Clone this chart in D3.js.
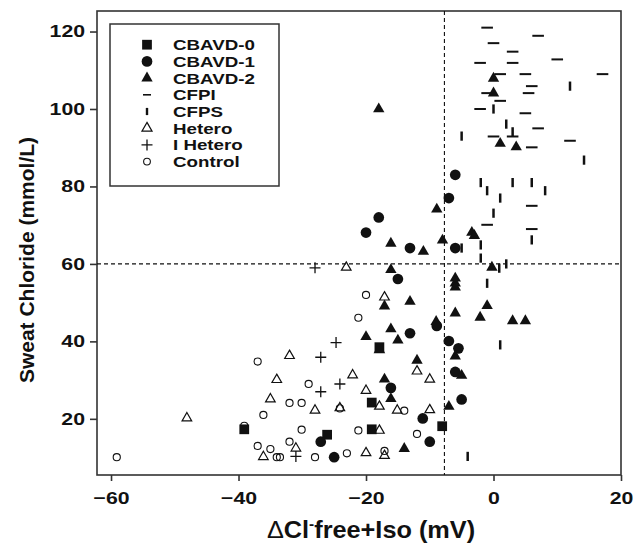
<!DOCTYPE html>
<html>
<head>
<meta charset="utf-8">
<script src="https://cdn.jsdelivr.net/npm/d3@7"></script>
<style>
  html, body { margin: 0; padding: 0; background: #fff; }
  svg { display: block; }
  text { font-family: "Liberation Sans", Arial, sans-serif; font-weight: bold; fill: #111; }
</style>
</head>
<body>
<svg id="chart" width="633" height="544"></svg>
<script>
// ---- data (x = ΔCl-free+Iso in mV, y = sweat chloride in mmol/L) ----
const cbavd0 = [[-39.1,17.3],[-26.1,15.9],[-19.1,17.3],[-19.1,24.2],[-17.9,38.5],[-8.05,18.1]];
const cbavd1 = [[-6.0,83.0],[-7.0,77.0],[-18.0,72.0],[-20.0,68.1],[-13.1,64.1],[-6.0,64.1],[-15.0,56.1],
  [-8.9,44.0],[-13.1,42.1],[-7.0,40.1],[-5.5,38.2],[-6.0,32.1],[-16.1,28.0],[-5.0,25.0],[-11.1,20.1],
  [-10.0,14.1],[-27.1,14.1],[-25.0,10.1]];
const cbavd2 = [[-18.0,100.0],[0.0,107.9],[0.0,104.1],[1.05,91.1],[3.56,90.2],[-8.9,74.1],[-3.4,68.1],
  [-3.0,67.3],[-8.0,66.1],[-16.1,65.3],[-11.0,63.2],[-0.25,59.1],[-16.1,58.5],[-6.0,56.3],[-6.0,55.0],
  [-6.0,54.0],[-17.1,49.1],[-13.1,50.3],[-1.0,49.2],[-6.0,47.3],[-2.1,46.2],[3.0,45.3],[5.0,45.3],
  [-9.0,45.1],[-16.1,43.2],[-20.0,41.2],[-15.0,40.3],[-6.0,36.2],[-12.0,35.1],[-5.0,31.2],[-17.1,30.2],
  [-16.1,25.2],[-7.0,23.2],[-14.0,12.3]];
const cfpi = [[-1.0,121.0],[7.0,118.9],[0.0,117.0],[3.0,114.8],[-2.1,111.9],[3.0,111.9],[10.0,112.8],
  [1.05,109.0],[5.0,109.0],[17.1,109.0],[6.0,105.9],[-1.0,104.1],[5.5,104.1],[1.05,102.1],[-2.1,100.0],
  [5.0,98.9],[7.0,95.0],[0.0,92.9],[3.0,92.9],[12.0,91.8],[6.0,90.1],[6.0,75.0],[-1.0,70.1],[6.0,69.0]];
const cfps = [[12.0,105.9],[0.0,100.0],[2.0,96.1],[3.0,94.1],[-5.0,93.0],[14.2,86.8],[-2.0,81.0],
  [-1.0,78.9],[3.0,81.0],[6.0,81.0],[8.1,78.9],[1.05,77.0],[0.0,73.1],[6.0,66.2],[-2.0,64.9],
  [-2.0,61.5],[-5.0,64.1],[0.9,58.9],[2.0,60.0],[-1.0,55.0],[1.05,39.1],[-4.05,10.3]];
const hetero = [[-48.1,20.2],[-23.1,59.1],[-32.0,36.3],[-22.1,31.3],[-34.0,30.1],[-35.0,25.1],[-28.0,22.2],
  [-24.1,22.8],[-17.1,51.4],[-12.0,32.3],[-10.0,30.2],[-20.0,27.3],[-17.9,23.2],[-15.1,22.2],[-10.0,22.3],
  [-17.9,17.0],[-20.0,11.2],[-17.1,10.5],[-31.0,12.4],[-36.1,10.2],[-17.9,37.8]];
const iHetero = [[-28.0,59.0],[-24.7,39.7],[-27.1,35.9],[-24.1,29.0],[-27.1,27.0],[-31.0,10.3]];
const control = [[-59.1,10.1],[-37.0,34.8],[-29.0,29.0],[-32.0,24.1],[-30.1,24.1],[-36.1,21.0],[-24.1,22.7],
  [-39.1,18.2],[-30.1,17.2],[-21.2,17.0],[-37.0,13.0],[-35.0,12.2],[-32.0,14.1],[-34.0,10.1],[-33.5,10.1],
  [-28.0,10.1],[-23.0,11.1],[-21.2,46.1],[-20.0,52.0],[-14.0,22.1],[-12.0,16.1],[-17.1,11.7]];

const xTicks = [-60, -40, -20, 0, 20];
const yTicks = [20, 40, 60, 80, 100, 120];
const refX = -7.7;   // vertical dashed reference
const refY = 60;     // horizontal dashed reference
const legendLabels = ["CBAVD-0","CBAVD-1","CBAVD-2","CFPI","CFPS","Hetero","I Hetero","Control"];

// ---- layout ----
const svg = d3.select("#chart");
const L = 97, R = 621, T = 11, B = 475;
const x = d3.scaleLinear().domain([-62.2, 20]).range([L, R]);
const y = d3.scaleLinear().domain([5.5, 125.3]).range([B, T]);
const ink = "#111";

// custom symbol types
const hDash = { draw(ctx, s) { const w = 5.8, h = 1.0; ctx.rect(-w, -h, 2*w, 2*h); } };
const vTick = { draw(ctx, s) { const w = 1.25, h = 4.6; ctx.rect(-w, -h, 2*w, 2*h); } };
const plus = { draw(ctx, s) { const r = 5.5; ctx.moveTo(-r,0); ctx.lineTo(r,0); ctx.moveTo(0,-r); ctx.lineTo(0,r); } };

const styles = {
  "CBAVD-0":  { type: d3.symbolSquare,   size: 95,  fill: ink, stroke: "none" },
  "CBAVD-1":  { type: d3.symbolCircle,   size: 90,  fill: ink, stroke: "none" },
  "CBAVD-2":  { type: d3.symbolTriangle, size: 56,  fill: ink, stroke: "none" },
  "CFPI":     { type: hDash,             size: 1,   fill: ink, stroke: "none" },
  "CFPS":     { type: vTick,             size: 1,   fill: ink, stroke: "none" },
  "Hetero":   { type: d3.symbolTriangle, size: 40,  fill: "none", stroke: ink, sw: 1.2 },
  "I Hetero": { type: plus,              size: 1,   fill: "none", stroke: ink, sw: 1.3 },
  "Control":  { type: d3.symbolCircle,   size: 40,  fill: "none", stroke: ink, sw: 1.1 }
};

// frame
svg.append("rect").attr("x", L).attr("y", T).attr("width", R - L).attr("height", B - T)
  .attr("fill", "none").attr("stroke", "#333").attr("stroke-width", 1.6);

// axes
const fontTick = 17;
const gx = svg.append("g").attr("transform", `translate(0,${B})`)
  .call(d3.axisBottom(x).tickValues(xTicks).tickSize(6).tickPadding(11).tickFormat(d3.format("d")));
const gy = svg.append("g").attr("transform", `translate(${L},0)`)
  .call(d3.axisLeft(y).tickValues(yTicks).tickSize(7).tickPadding(5).tickFormat(d3.format("d")));
[gx, gy].forEach(g => {
  g.select(".domain").remove();
  g.selectAll(".tick line").attr("stroke", "#333").attr("stroke-width", 1.6);
  g.selectAll(".tick text").attr("font-size", fontTick).attr("font-family", "Liberation Sans, Arial, sans-serif")
    .attr("font-weight", "bold").attr("fill", ink);
});
gx.selectAll(".tick text").attr("dy", "0.71em").attr("transform", "scale(1.25,1)");
gy.selectAll(".tick text").attr("x", -12 / 1.25).attr("transform", "scale(1.25,1)");

// reference lines
svg.append("line").attr("x1", x(refX)).attr("x2", x(refX)).attr("y1", T).attr("y2", B)
  .attr("stroke", ink).attr("stroke-width", 1.1).attr("stroke-dasharray", "4,3");
svg.append("line").attr("x1", L).attr("x2", R).attr("y1", y(refY)).attr("y2", y(refY))
  .attr("stroke", ink).attr("stroke-width", 1.1).attr("stroke-dasharray", "4,3");

// points
const series = [
  ["Control", control], ["Hetero", hetero], ["I Hetero", iHetero],
  ["CBAVD-0", cbavd0], ["CBAVD-1", cbavd1], ["CBAVD-2", cbavd2], ["CFPI", cfpi], ["CFPS", cfps]
];
series.forEach(([name, data]) => {
  const st = styles[name];
  svg.append("g").selectAll("path").data(data).join("path")
    .attr("transform", d => `translate(${x(d[0])},${y(d[1])})`)
    .attr("d", d3.symbol().type(st.type).size(st.size))
    .attr("fill", st.fill).attr("stroke", st.stroke).attr("stroke-width", st.sw || 0);
});

// legend
const lg = svg.append("g");
lg.append("rect").attr("x", 110).attr("y", 24).attr("width", 169).attr("height", 162)
  .attr("fill", "#fff").attr("stroke", "#333").attr("stroke-width", 1.5);
legendLabels.forEach((name, i) => {
  const cy = 44.7 + i * 16.7;
  const st = styles[name];
  let type = st.type, size = st.size;
  if (name === "CFPI") type = { draw(ctx) { ctx.rect(-4, -0.8, 8, 1.6); } };
  if (name === "CFPS") type = { draw(ctx) { ctx.rect(-1.2, -3.6, 2.4, 7.2); } };
  if (name === "Control") size = 36;
  if (name === "Hetero") size = 44;
  lg.append("path").attr("transform", `translate(147,${cy})`)
    .attr("d", d3.symbol().type(type).size(size))
    .attr("fill", st.fill).attr("stroke", st.stroke).attr("stroke-width", st.sw || 0);
  lg.append("text").attr("transform", `translate(173,${cy}) scale(1.25,1)`)
    .attr("dy", "0.36em").attr("font-size", 15).text(name);
});

// axis titles
svg.append("text").attr("transform", `translate(371,530) scale(1.1,1)`).attr("text-anchor", "middle")
  .attr("dy", "0.36em").attr("font-size", 23)
  .html('<tspan font-weight="normal">\u0394</tspan>Cl<tspan font-size="14" dy="-9">-</tspan><tspan dy="9">free+Iso (mV)</tspan>');
svg.append("text").attr("transform", `translate(26,260) rotate(-90)`).attr("text-anchor", "middle")
  .attr("dy", "0.36em").attr("font-size", 21).text("Sweat Chloride (mmol/L)");
</script>
</body>
</html>
